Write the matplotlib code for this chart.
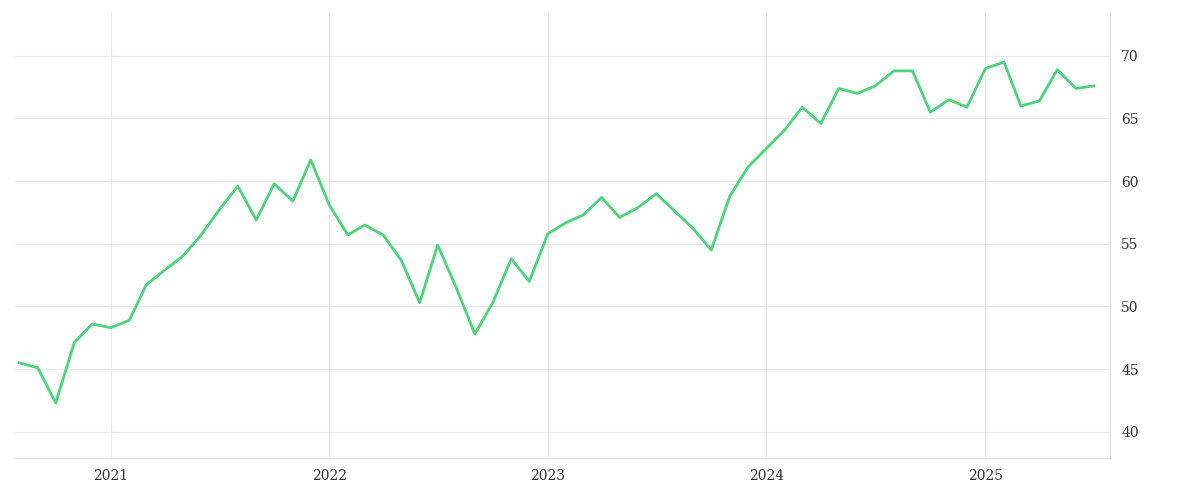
import matplotlib
matplotlib.use("Agg")
import matplotlib.pyplot as plt
import pandas as pd

dates = pd.date_range("2020-08-01", periods=60, freq="MS")
values = [45.5,45.1,42.3,47.1,48.6,48.3,48.9,51.7,52.9,54.0,55.7,57.7,59.6,56.9,59.8,58.4,61.7,
          58.1,55.7,56.5,55.7,53.7,50.3,54.9,51.5,47.8,50.3,53.8,52.0,
          55.8,56.7,57.3,58.7,57.1,57.9,59.0,57.6,56.2,54.5,58.8,61.1,
          62.6,64.1,65.9,64.6,67.4,67.0,67.6,68.8,68.8,65.5,66.5,65.9,
          69.0,69.5,66.0,66.4,68.9,67.4,67.6]
yticks = [40,45,50,55,60,65,70]
xtick_labels = ["2021","2022","2023","2024","2025"]

fig = plt.figure(figsize=(12,5), dpi=100)
ax = fig.add_axes([15/1200, 42/500, 1095/1200, 446/500])
ax.plot(dates, values, color="#4cd37b", lw=2.0)
ax.set_ylim(37.9, 73.5)
ax.set_xlim(pd.Timestamp("2020-07-25"), pd.Timestamp("2025-07-28"))
ax.set_yticks(yticks)
ax.set_xticks([pd.Timestamp(f"{y}-01-01") for y in xtick_labels])
ax.set_xticklabels(xtick_labels)
ax.yaxis.tick_right()
ax.grid(True, color="#ebebeb", lw=0.8)
for s in ["top","left"]:
    ax.spines[s].set_visible(False)
for s in ["bottom","right"]:
    ax.spines[s].set_color("#e5e5e5")
ax.tick_params(length=0, labelsize=10, colors="#333333", pad=8)
for lab in ax.get_xticklabels()+ax.get_yticklabels():
    lab.set_family("DejaVu Serif")
fig.savefig("out.png")
